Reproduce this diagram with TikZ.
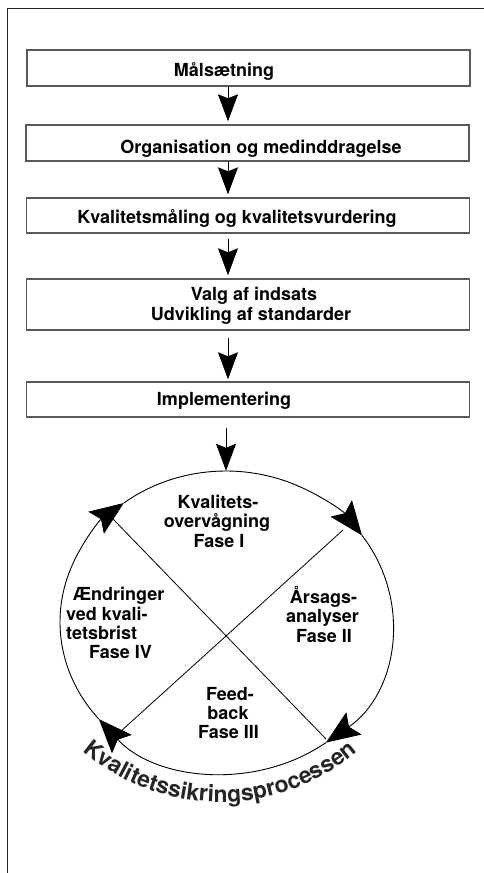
\documentclass[tikz,border=0pt]{standalone}
\usepackage{fontspec}
\setmainfont{TeX Gyre Heros}
\usetikzlibrary{arrows.meta,decorations.text,calc,shapes.geometric}

\begin{document}
\begin{tikzpicture}[x=1pt,y=-1pt,
  frame/.style={line width=1.7pt, draw=black!85},
  stepbox/.style={draw=black!65, line width=1.4pt, minimum width=443pt, inner sep=0pt},
  lbl/.style={font=\bfseries\fontsize{18}{19.5}\selectfont, inner sep=0pt, anchor=base},
  flow/.style={line width=0.9pt, -{Stealth[length=27pt,width=20pt,inset=4pt]}},
  ring/.style={line width=0.9pt, -{Stealth[length=34pt,width=27pt,inset=6pt]}},
  diag/.style={line width=0.8pt}]

\useasboundingbox (0,0) rectangle (484,873);

% outer frame (left and top edges only)
\draw[frame] (7.5,873) -- (7.5,8.5) -- (484,8.5);

% process steps
\node[stepbox, minimum height=36pt] (b1) at (248.5,68) {};
\node[stepbox, minimum height=36pt] (b2) at (247.5,143) {};
\node[stepbox, minimum height=35pt] (b3) at (248,215.5) {};
\node[stepbox, minimum height=51pt] (b4) at (248,304.5) {};
\node[stepbox, minimum height=35pt] (b5) at (248,399.5) {};

\node[lbl] (t1) at (224,76) {Målsætning};
\node[lbl] (t2) at (261,153) {Organisation og medinddragelse};
\node[lbl] (t3) at (237,223) {Kvalitetsmåling og kvalitetsvurdering};
\node[lbl] (t4a) at (254,300) {Valg af indsats};
\node[lbl] (t4b) at (251,320) {Udvikling af standarder};
\node[lbl] (t5) at (224,405) {Implementering};

% quality cycle
\node[ellipse, draw=none, inner sep=0pt, minimum width=332pt, minimum height=302pt] (cyc) at (226,622) {};

% arrows between the steps
\coordinate (ax) at (228,0);
\draw[flow, shorten >=3pt] (b1.south -| ax) -- (b2.north -| ax);
\draw[flow, shorten >=3pt] (b2.south -| ax) -- (b3.north -| ax);
\draw[flow, shorten <=5pt, shorten >=3pt] (b3.south -| ax) -- (b4.north -| ax);
\draw[flow, shorten <=7pt, shorten >=2pt] (b4.south -| ax) -- (b5.north -| ax);
\draw[flow, shorten <=10pt] (b5.south -| cyc.north) -- (cyc.north);

% cycle arcs, clockwise
\draw[ring] ($(cyc.center)+(-128:166 and 151)$) arc[start angle=-128, end angle=-35, x radius=166, y radius=151];
\draw[ring] ($(cyc.center)+(-35:166 and 151)$) arc[start angle=-35, end angle=53, x radius=166, y radius=151];
\draw[ring] ($(cyc.center)+(53:166 and 151)$) arc[start angle=53, end angle=140, x radius=166, y radius=151];
\draw[ring] ($(cyc.center)+(140:166 and 151)$) arc[start angle=140, end angle=232, x radius=166, y radius=151];

% crossing diagonals
\coordinate (dA1) at (113,519);
\coordinate (dA2) at (326,739);
\coordinate (dB1) at (343,530);
\coordinate (dB2) at (120,732);
\draw[diag] (dA1) -- (dA2);
\draw[diag] (dB1) -- (dB2);

% phase labels
\node[lbl] (p1a) at (218,508) {Kvalitets-};
\node[lbl] (p1b) at (217,527) {overvågning};
\node[lbl] (p1c) at (219,547) {Fase I};

\node[lbl] (p2a) at (323.5,603) {Årsags-};
\node[lbl] (p2b) at (322.5,622) {analyser};
\node[lbl] (p2c) at (324,642) {Fase II};

\node[lbl] (p3a) at (230,700) {Feed-};
\node[lbl] (p3b) at (228,719) {back};
\node[lbl] (p3c) at (228.5,738) {Fase III};

\node[lbl, anchor=base west] (p4a) at (73,600) {Ændringer};
\node[lbl, anchor=base west] (p4b) at (66,620) {ved kvali-};
\node[lbl, anchor=base west] (p4c) at (66,639) {tetsbrist};
\node[lbl, anchor=base west] (p4d) at (89,658) {Fase IV};

% curved title under the cycle
\path[decorate, decoration={text along path, text align=center,
    text format delimiters={|}{|},
    text={|\bfseries\fontsize{23}{23}\selectfont\color{black!85}|Kvalitetssikringsprocessen}}]
  ($(220,590)+(155:212)$) arc[start angle=155, end angle=25, radius=212];

\end{tikzpicture}
\end{document}
